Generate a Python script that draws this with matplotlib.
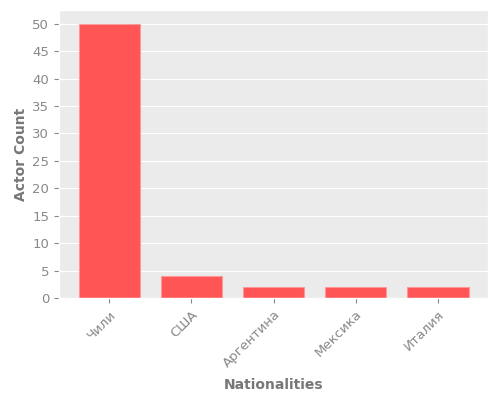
import matplotlib
matplotlib.use('Agg')
import matplotlib.pyplot as plt

nationalities = ['Чили', 'США', 'Аргентина', 'Мексика', 'Италия']
counts = [50, 4, 2, 2, 2]

plt.style.use('ggplot')
fig, ax = plt.subplots(figsize=(5, 4), dpi=100)
ax.set_facecolor('#ebebeb')
ax.bar(nationalities, counts, width=0.75, color='#ff5555', edgecolor='#ff9999', linewidth=0.8)
ax.set_xlabel('Nationalities', fontsize=10, fontweight='bold', color='#777777', labelpad=6)
ax.set_ylabel('Actor Count', fontsize=10, fontweight='bold', color='#777777', labelpad=3)
ax.set_yticks(range(0, 51, 5))
ax.tick_params(axis='both', labelsize=9.5, colors='#888888')
ax.grid(axis='x', visible=False)
plt.setp(ax.get_xticklabels(), rotation=45, ha='right', rotation_mode='anchor')
fig.subplots_adjust(left=0.118, right=0.976, top=0.975, bottom=0.255)
fig.savefig('out.png')
